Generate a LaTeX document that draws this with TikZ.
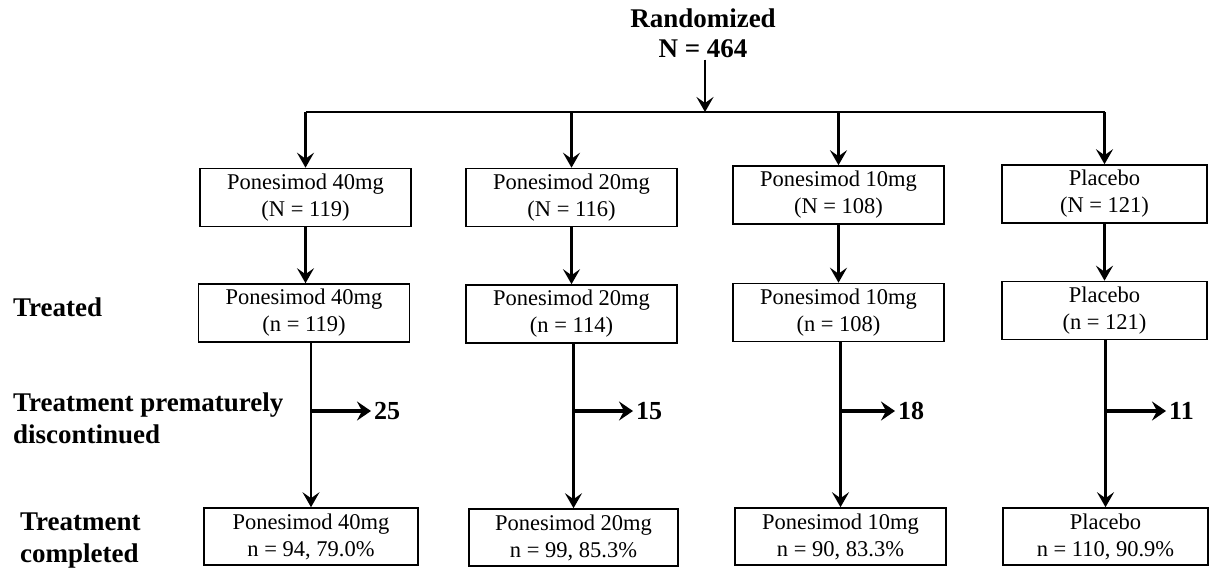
\documentclass[tikz,border=0pt]{standalone}
\usepackage{fontspec}
\setmainfont{Liberation Serif}
\usetikzlibrary{arrows.meta}
\usetikzlibrary{positioning}
\tikzset{box/.style = {draw, line width = 1.6pt, minimum width = 211pt, minimum height = 58pt,
                       inner sep = 0, align = center, font = \fontsize{22.5}{27}\selectfont}}
\tikzset{lab/.style = {anchor = west, align = left, inner sep = 0,
                       font = \fontsize{27}{32}\selectfont\bfseries}}
\tikzset{num/.style = {anchor = west, inner sep = 3pt, font = \fontsize{26}{30}\selectfont\bfseries}}
\tikzset{arr/.style = {line width = 2.6pt, -{Stealth[length = 15pt, width = 17pt, inset = 6pt]}}}
\tikzset{side/.style = {line width = 4.5pt, -{Stealth[length = 14pt, width = 19pt, inset = 5pt]}}}

\begin{document}
\begin{tikzpicture}[x = 1pt, y = -1pt]
  \useasboundingbox (0, 0) rectangle (1209, 571);
  \node [align = center, inner sep = 2pt, font = \fontsize{27}{30}\selectfont\bfseries] (rand) at (703, 33) {Randomized\\N = 464};
  \coordinate (split) at (705, 112);

  % randomized arms
  \node [box] (b11) at (305.5, 197.5) {Ponesimod 40mg\\(N = 119)};
  \node [box] (b12) at (571.5, 197.5) {Ponesimod 20mg\\(N = 116)};
  \node [box] (b13) at (838.5, 195) {Ponesimod 10mg\\(N = 108)};
  \node [box, minimum width = 205pt] (b14) at (1104.5, 194) {Placebo\\(N = 121)};

  % treated
  \node [box] (b21) at (304, 313) {Ponesimod 40mg\\(n = 119)};
  \node [box] (b22) at (571.5, 314) {Ponesimod 20mg\\(n = 114)};
  \node [box] (b23) at (838.5, 312.5) {Ponesimod 10mg\\(n = 108)};
  \node [box, minimum width = 205pt] (b24) at (1104.5, 310.5) {Placebo\\(n = 121)};

  % completed
  \node [box, minimum width = 214pt, minimum height = 57pt] (b31) at (311, 536.5) {Ponesimod 40mg\\n = 94, 79.0\%};
  \node [box, minimum width = 209pt, minimum height = 57pt] (b32) at (573.5, 537.5) {Ponesimod 20mg\\n = 99, 85.3\%};
  \node [box, minimum height = 57pt] (b33) at (840.5, 536.5) {Ponesimod 10mg\\n = 90, 83.3\%};
  \node [box, minimum width = 205pt, minimum height = 57pt] (b34) at (1105.5, 536.5) {Placebo\\n = 110, 90.9\%};

  % row labels
  \node [lab] (treated) at (13, 307) {Treated};
  \node [lab] (stopped) at (13, 418) {Treatment prematurely\\discontinued};
  \node [lab] (done) at (20, 541) {Treatment\\completed};

  % discontinued counts
  \node [num] (d1) at (371, 411) {25};
  \node [num] (d2) at (633, 411) {15};
  \node [num] (d3) at (895, 411) {18};
  \node [num] (d4) at (1166, 411) {11};

  \draw [arr] (rand.south -| split) -- (split);
  \draw [line width = 2.6pt] (split -| b11) -- (split -| b14);
  \foreach \i in {1, 2, 3, 4} {
    \draw [arr] (split -| b1\i) -- (b1\i.north);
    \draw [arr] (b1\i.south) -- (b1\i.south |- b2\i.north);
    \draw [arr] (b2\i.south -| b3\i.north) -- (b3\i.north);
    \draw [side] (b3\i.north |- d\i) -- (d\i.west);
  }
\end{tikzpicture}
\end{document}
